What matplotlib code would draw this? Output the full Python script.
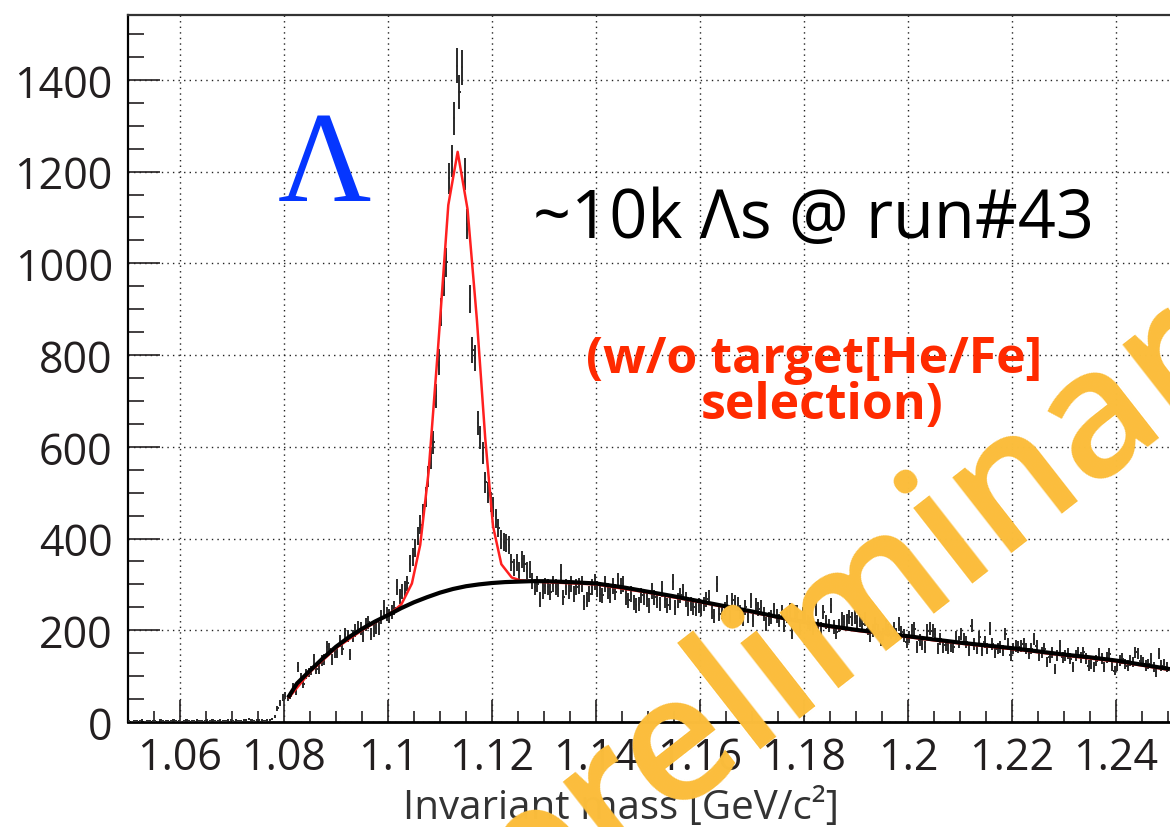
import numpy as np
import matplotlib.pyplot as plt
from matplotlib.ticker import MultipleLocator, FixedLocator

W, H = 1170, 828

# histogram contents, 0.5 MeV bins starting at 1.050 GeV/c2
counts_flat = [2, 1, 3, 2, 2, 4, 1, 3, 2, 3, 2, 1, 4, 2, 3, 3, 2, 5, 3, 2,
               1, 3, 4, 2, 3, 2, 4, 3, 2, 3, 5, 3, 4, 2, 3, 4, 3, 2, 4, 5,
               3, 4, 3, 2, 4, 5, 6, 4, 3, 4, 5, 4, 3, 5, 4]
counts_rise = [6, 11, 30, 41, 54, 57, 52, 57, 76, 68, 120, 98, 83, 105, 108,
               112, 137, 116, 116, 134, 137, 163, 159, 137, 152, 152, 177, 159, 192, 187,
               148, 187, 199, 206, 203, 187, 213, 217, 192, 199, 206, 203, 228, 250, 235]
counts_peak = [232, 240, 248, 295, 273, 285, 290, 302, 345, 360,
               380, 405, 430, 455, 490, 536, 575, 610, 711, 785,
               894, 960, 1002, 1185, 1223, 1316, 1431, 1373, 1427, 1194,
               1086, 923, 811, 794, 652, 620, 586, 523, 500, 480,
               469, 444, 423, 398]
counts_tail = [392, 390, 385, 348, 337, 348, 330, 355, 345, 330,
               333, 308, 294, 301, 268, 286, 297, 294, 283, 301,
               294, 290, 326, 272, 294, 286, 301, 279, 294, 297,
               301, 261, 268, 279, 294, 305, 290, 279, 276, 301,
               286, 276, 297, 283, 308, 297, 301, 272, 265, 279,
               261, 254, 257, 276, 272, 268, 254, 286, 272, 265,
               257, 290, 265, 254, 261, 305, 250, 265, 276, 283,
               268, 247, 257, 250, 247, 254]
counts_mid = [246, 257, 268, 272, 239, 232, 301, 236, 239, 246,
              261, 232, 265, 261, 257, 239, 225, 250, 232, 265,
              221, 254, 246, 250, 236, 214, 225, 228, 243, 232,
              221, 239, 210, 232, 243, 196, 239, 239, 203, 236,
              228, 218, 214, 203, 246, 210, 203, 239, 218, 210,
              254, 207, 196, 210, 225, 218, 221, 228, 225, 228,
              218, 221, 214, 225, 203, 188, 199, 214, 199, 178,
              192, 210, 199, 196, 203, 192, 214, 196, 188, 174,
              185, 199, 203, 163, 178, 170, 163, 199, 203, 199,
              192, 160, 181, 163, 167]
counts_high = [160, 166, 163, 185, 174, 192, 181, 174,
               156, 210, 170, 160, 185, 156, 174, 160, 203, 170,
               152, 160, 163, 156, 192, 170, 145, 160, 166, 163,
               166, 170, 160, 149, 160, 181, 166, 145, 152, 160,
               131, 141, 152, 116, 145, 166, 141, 145, 149, 138,
               120, 145, 152, 141, 152, 138, 123, 127, 120, 134,
               149, 138, 120, 141, 149, 123, 112, 123, 134, 138,
               127, 123, 134, 131, 152, 149, 134, 131, 123, 127,
               138, 120, 109, 149, 123, 127, 120]

# background fit (black) and total fit (red)
bkg_x = [1.081, 1.0825, 1.085, 1.0875, 1.09, 1.0925, 1.095, 1.0975, 1.10, 1.1025,
         1.105, 1.1075, 1.11, 1.1125, 1.115, 1.1175, 1.12, 1.1225, 1.125, 1.1275,
         1.13, 1.135, 1.14, 1.145, 1.15, 1.155, 1.16, 1.165, 1.17, 1.175,
         1.18, 1.185, 1.19, 1.195, 1.20, 1.205, 1.21, 1.215, 1.22, 1.225,
         1.23, 1.235, 1.24, 1.245, 1.25]
bkg_y = [57, 84, 112, 139, 164, 185, 203, 219, 233, 248,
         261, 272, 282, 290, 296, 300, 303, 305, 306, 307,
         307, 305, 302, 294, 284, 274, 263, 252, 241, 229,
         218, 209, 201, 194, 187, 180, 173, 167, 161, 154,
         147, 141, 134, 125, 116]
fit_x = [1.081, 1.085, 1.09, 1.095, 1.0995, 1.1013, 1.1026, 1.1046, 1.1062, 1.1078,
         1.1096, 1.1116, 1.1134, 1.1153, 1.1171, 1.1187, 1.1202, 1.1218, 1.1238, 1.1254,
         1.13, 1.14, 1.15, 1.16, 1.17, 1.18, 1.19, 1.20, 1.21, 1.22,
         1.23, 1.24, 1.25]
fit_y = [54, 109, 161, 200, 230, 244, 257, 302, 386, 544,
         811, 1127, 1243, 1118, 877, 619, 427, 344, 315, 309,
         305, 300, 282, 261, 239, 216, 199, 185, 171, 159,
         145, 132, 114]

x_ticks = [1.06, 1.08, 1.10, 1.12, 1.14, 1.16, 1.18, 1.20, 1.22, 1.24]
x_tick_labels = ['1.06', '1.08', '1.1', '1.12', '1.14', '1.16', '1.18', '1.2', '1.22', '1.24']
y_ticks = [0, 200, 400, 600, 800, 1000, 1200, 1400]
y_tick_labels = ['0', '200', '400', '600', '800', '1000', '1200', '1400']

counts = np.array(counts_flat + counts_rise + counts_peak + counts_tail + counts_mid + counts_high, dtype=float)
centers = 1.05025 + 0.0005 * np.arange(len(counts))

plt.rcParams['font.family'] = ['Open Sans', 'DejaVu Sans']

fig = plt.figure(figsize=(W / 100, H / 100), dpi=100)
ax = fig.add_axes([128 / W, 1 - 723 / H, 1042 / W, (723 - 15.7) / H])

ax.errorbar(centers, counts, yerr=np.sqrt(counts), xerr=0.00022, fmt='none',
            ecolor='#2a2a2a', elinewidth=1.4, zorder=3)
ax.plot(fit_x, fit_y, color='#ff2020', lw=1.8, zorder=4)
ax.plot(bkg_x, bkg_y, color='black', lw=3, zorder=5)

ax.set_xlim(1.05, 1.2504)
ax.set_ylim(0, 1542)

ax.xaxis.set_major_locator(FixedLocator(x_ticks))
ax.xaxis.set_minor_locator(MultipleLocator(0.005))
ax.set_xticklabels(x_tick_labels)
ax.yaxis.set_major_locator(FixedLocator(y_ticks))
ax.yaxis.set_minor_locator(MultipleLocator(50))
ax.set_yticklabels(y_tick_labels)

ax.grid(True, which='major', linestyle=(0, (1, 3)), color='#222222', lw=1.0)
ax.set_axisbelow(True)

ax.tick_params(which='both', direction='in', top=False, right=False, colors='#231f20')
ax.tick_params(axis='y', which='major', length=23, width=1.2, pad=11, labelsize=31)
ax.tick_params(axis='y', which='minor', length=11.5, width=1.2)
ax.tick_params(axis='x', which='major', length=16, width=1.2, pad=10, labelsize=31)
ax.tick_params(axis='x', which='minor', length=8, width=1.2)

ax.spines['right'].set_visible(False)
ax.spines['left'].set_linewidth(1.6)
ax.spines['bottom'].set_linewidth(2.0)
ax.spines['top'].set_linewidth(1.6)
ax.spines['top'].set_color('#333333')

fig.text(621 / W, 1 - 819 / H, 'Invariant mass [GeV/c²]', fontsize=29, color='#333333',
         ha='center', va='baseline')

fig.text(325 / W, 1 - 201 / H, 'Λ', family=['Liberation Serif', 'DejaVu Serif'], fontsize=93,
         color='#0536ff', ha='center', va='baseline')
fig.text(813 / W, 1 - 238 / H, '~10k Λs @ run#43', fontsize=48, color='black',
         ha='center', va='baseline')
fig.text(814 / W, 1 - 373 / H, '(w/o target[He/Fe]', fontsize=36, weight='bold',
         color='#ff2a00', ha='center', va='baseline')
fig.text(822 / W, 1 - 419 / H, 'selection)', fontsize=36, weight='bold',
         color='#ff2a00', ha='center', va='baseline')

# "preliminary" watermark on top of everything
fig.text(912 / W, 1 - 620 / H, 'preliminary', fontsize=128, weight='semibold',
         color='#fbbd3c', rotation=38, ha='center', va='baseline',
         rotation_mode='anchor', zorder=10)

fig.savefig('out.png', dpi=100)
